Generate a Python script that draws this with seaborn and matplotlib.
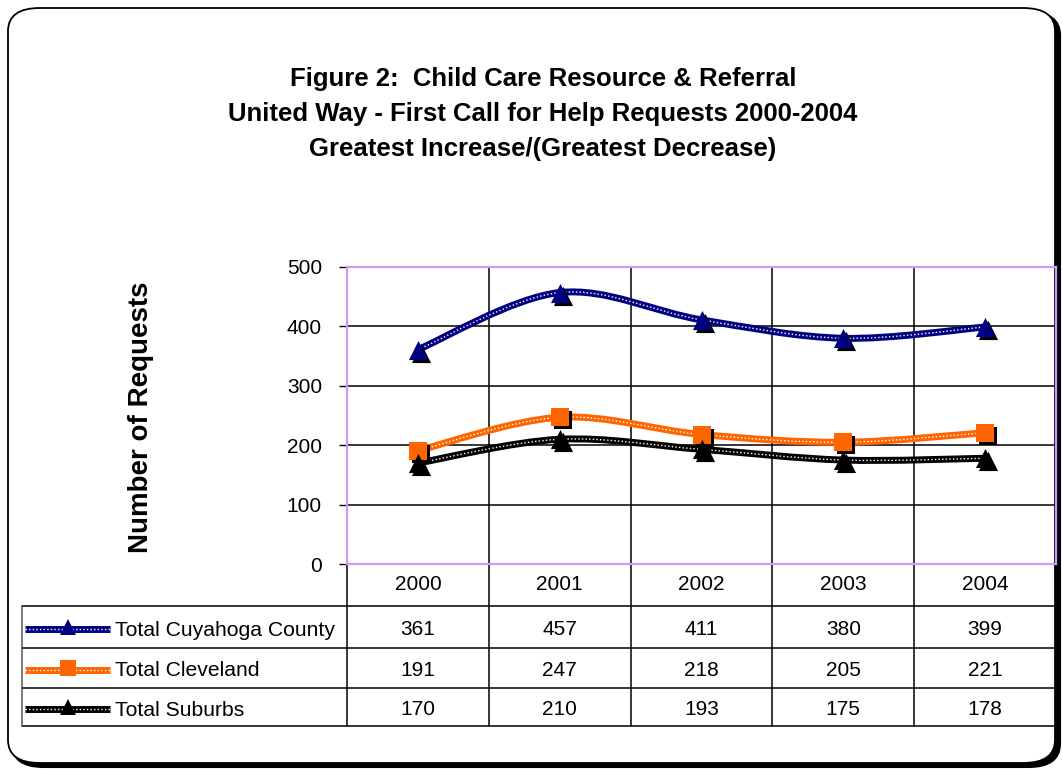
import numpy as np
import pandas as pd
import matplotlib
matplotlib.use("Agg")
import matplotlib.pyplot as plt
import matplotlib.transforms as mtransforms
from matplotlib.path import Path
from matplotlib.patches import PathPatch, FancyBboxPatch
from matplotlib.lines import Line2D
import seaborn as sns

# ---------------- data ----------------
years = ["2000", "2001", "2002", "2003", "2004"]
series_names = ["Total Cuyahoga County", "Total Cleveland", "Total Suburbs"]
cuyahoga = [361, 457, 411, 380, 399]
cleveland = [191, 247, 218, 205, 221]
suburbs = [170, 210, 193, 175, 178]
yticks = [0, 100, 200, 300, 400, 500]

title_text = ("Figure 2:  Child Care Resource & Referral\n"
              "United Way - First Call for Help Requests 2000-2004\n"
              "Greatest Increase/(Greatest Decrease)")
ylabel_text = "Number of Requests"

colors = ["#000080", "#FF6600", "#000000"]
markers = ["^", "s", "^"]
values = [cuyahoga, cleveland, suburbs]

df = pd.DataFrame({
    "idx": np.tile(np.arange(len(years)), 3),
    "value": cuyahoga + cleveland + suburbs,
    "series": np.repeat(series_names, len(years)),
})

sns.set_style("white")
plt.rcParams["font.family"] = ["Liberation Sans", "DejaVu Sans"]
plt.rcParams["text.color"] = "black"
plt.rcParams["ytick.color"] = "black"
plt.rcParams["ytick.labelcolor"] = "black"

W, H = 1062, 770
fig = plt.figure(figsize=(W / 100, H / 100), dpi=100)

def fx(px):
    return px / W

def fy(py):
    return 1 - py / H

# rounded frame with shadow
shadow = FancyBboxPatch((fx(12), fy(767)), fx(1048), fy(12) - fy(767),
                        boxstyle="round,pad=0,rounding_size=0.03",
                        transform=fig.transFigure, facecolor="black",
                        edgecolor="black", lw=1.5, zorder=0)
frame = FancyBboxPatch((fx(8), fy(763)), fx(1047), fy(8) - fy(763),
                       boxstyle="round,pad=0,rounding_size=0.03",
                       transform=fig.transFigure, facecolor="white",
                       edgecolor="black", lw=1.3, zorder=0.5)
fig.patches.extend([shadow, frame])

# plot area
L, R, T, B = 347, 1056, 267, 564
ax = fig.add_axes([fx(L), fy(B), fx(R - L), fy(T) - fy(B)])
ax.set_zorder(2)
ax.set_facecolor("none")
ax.set_xlim(-0.5, len(years) - 0.5)
ax.set_ylim(0, 500)
ax.set_yticks(yticks)
ax.set_yticklabels([str(v) for v in yticks], fontsize=15)
ax.set_xticks([])
ax.tick_params(axis="y", length=6, width=1, color="black", pad=12, left=True,
               labelcolor="black")
for s in ax.spines.values():
    s.set_color("#CC99FF")
    s.set_linewidth(1.6)
ax.grid(False)
for v in yticks[1:-1]:
    ax.axhline(v, color="black", lw=1.1, zorder=1)
for i in range(1, len(years)):
    ax.axvline(i - 0.5, color="black", lw=1.1, zorder=1)

# smooth (Bezier) lines computed from data
def smooth_path(xs, ys):
    P = np.column_stack([xs, ys]).astype(float)
    n = len(P)
    verts = [P[0]]
    codes = [Path.MOVETO]
    for i in range(n - 1):
        p0 = P[i - 1] if i > 0 else P[i]
        p1, p2 = P[i], P[i + 1]
        p3 = P[i + 2] if i + 2 < n else P[i + 1]
        c1 = p1 + (p2 - p0) / 6.0
        c2 = p2 - (p3 - p1) / 6.0
        verts += [c1, c2, p2]
        codes += [Path.CURVE4] * 3
    return Path(verts, codes)

xs = np.arange(len(years))
for vals, col in zip(values, colors):
    path = smooth_path(xs, vals)
    ax.add_patch(PathPatch(path, facecolor="none", edgecolor=col, lw=5.0,
                           zorder=3, capstyle="butt"))
    ax.add_patch(PathPatch(path, facecolor="none", edgecolor="white", lw=1.0,
                           linestyle=(0, (1, 1.6)), zorder=3.1))

# markers with shadows
shadow_tr = mtransforms.offset_copy(ax.transData, fig=fig, x=3, y=-3, units="dots")
for k, (name, col, mk) in enumerate(zip(series_names, colors, markers)):
    sub = df[df["series"] == name]
    size = 190 if mk == "^" else 150
    ax.scatter(sub["idx"], sub["value"], marker=mk, s=size, color="black",
               transform=shadow_tr, zorder=4, linewidths=0)
    sns.scatterplot(data=sub, x="idx", y="value", marker=mk, s=size,
                    color=col, edgecolor=col, linewidth=0, ax=ax,
                    zorder=5, legend=False)
ax.set_xlabel("")
ax.set_ylabel("")

# y label
fig.text(fx(141), fy(417), ylabel_text, rotation=90, ha="center", va="center",
         fontsize=20, fontweight="bold")

# title
fig.text(fx(543), fy(114), title_text, ha="center", va="center",
         fontsize=18.5, fontweight="bold", linespacing=1.58)

# data table
rows_y = [564, 606, 648, 688, 726]
tbl_left = 22
col_edges = [L + (R - L) * i / len(years) for i in range(len(years) + 1)]

def hline(x0, x1, y, color="black", lw=1.1):
    fig.add_artist(Line2D([fx(x0), fx(x1)], [fy(y), fy(y)], color=color, lw=lw,
                          transform=fig.transFigure))

def vline(x, y0, y1, color="black", lw=1.1):
    fig.add_artist(Line2D([fx(x), fx(x)], [fy(y0), fy(y1)], color=color, lw=lw,
                          transform=fig.transFigure))

for y in rows_y[1:]:
    hline(tbl_left, R, y)
vline(tbl_left, rows_y[1], rows_y[-1], color="#555555")
for x in col_edges:
    vline(x, rows_y[0], rows_y[-1])

for i, yr in enumerate(years):
    cx = (col_edges[i] + col_edges[i + 1]) / 2
    fig.text(fx(cx), fy((rows_y[0] + rows_y[1]) / 2), yr, ha="center",
             va="center", fontsize=15)
    for r, vals in enumerate(values):
        cy = (rows_y[r + 1] + rows_y[r + 2]) / 2 + 2.5
        fig.text(fx(cx), fy(cy), str(vals[i]), ha="center", va="center",
                 fontsize=15)

for r, (name, col, mk) in enumerate(zip(series_names, colors, markers)):
    cy = (rows_y[r + 1] + rows_y[r + 2]) / 2 + 2
    fig.add_artist(Line2D([fx(25), fx(110)], [fy(cy), fy(cy)], color=col,
                          lw=5.0, transform=fig.transFigure, solid_capstyle="butt"))
    fig.add_artist(Line2D([fx(25), fx(110)], [fy(cy), fy(cy)], color="white",
                          lw=1.0, linestyle=(0, (1, 1.6)),
                          transform=fig.transFigure))
    fig.add_artist(Line2D([fx(68)], [fy(cy - 2)], marker=mk, markersize=11,
                          color=col, markeredgewidth=0,
                          transform=fig.transFigure))
    fig.text(fx(115), fy(cy + 1), name, ha="left", va="center", fontsize=15.2)

fig.savefig("out.png", dpi=100)
